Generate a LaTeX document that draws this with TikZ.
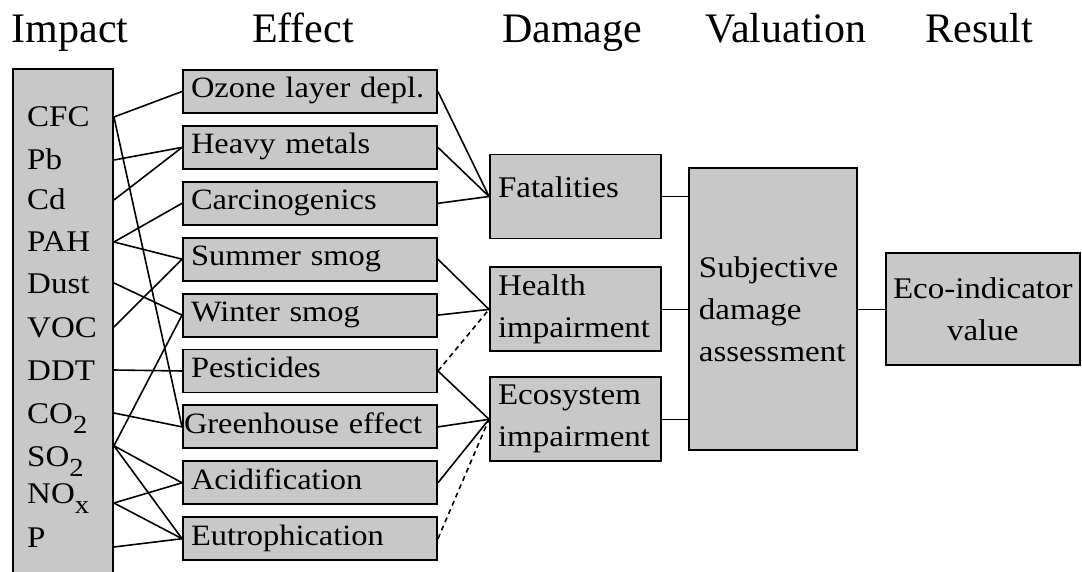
\documentclass[tikz,border=0pt]{standalone}
\usepackage{fontspec}
\setmainfont{Liberation Serif}
\newfontfamily\boxfont{Liberation Serif}[FakeStretch=1.1]
\usetikzlibrary{positioning}
\definecolor{boxgray}{RGB}{200,200,200}
\newcommand{\lowsub}[1]{\raisebox{-10pt}{\fontsize{26}{26}\selectfont #1}}

\begin{document}
\begin{tikzpicture}
    [x=1pt,y=-1pt,
    every node/.style={font=\boxfont\fontsize{30}{42}\selectfont},
    header/.style={font=\fontsize{42}{42}\selectfont,anchor=base},
    impactbox/.style={draw,fill=boxgray,line width=1.9pt,minimum width=100pt,minimum height=506pt},
    implabel/.style={anchor=base west,inner sep=0pt,text height=20pt,text depth=0pt},
    effect/.style={draw,fill=boxgray,line width=1.9pt,minimum height=43pt,text width=238pt,inner xsep=8pt,inner ysep=0pt,
        text height=20pt,text depth=7pt,align=left,font=\boxfont\fontsize{29.5}{42}\selectfont},
    damage/.style={draw,fill=boxgray,line width=1.9pt,minimum height=84pt,text width=155pt,inner xsep=8pt,inner ysep=6pt,align=left},
    valuation/.style={draw,fill=boxgray,line width=1.9pt,minimum width=168pt,minimum height=282pt,text width=148pt,inner xsep=10pt,align=left},
    result/.style={draw,fill=boxgray,line width=1.9pt,minimum width=194pt,minimum height=112pt,text width=184pt,inner xsep=5pt,align=center},
    link/.style={line width=1.6pt},
    weak/.style={link,dash pattern=on 5pt off 4pt}]

    \useasboundingbox (0,0) rectangle (1082,572);

    % column headers
    \node[header] (hImpact) at (70,43) {Impact};
    \node[header] (hEffect) at (303,43) {Effect};
    \node[header] (hDamage) at (572,43) {Damage};
    \node[header] (hValuation) at (786,43) {Valuation};
    \node[header] (hResult) at (979,43) {Result};

    % impact column
    \node[impactbox] (imp) at (63,322) {};
    \foreach \n/\t/\y in {cfc/CFC/127, pb/Pb/170, cd/Cd/210, pah/PAH/252, dust/Dust/293, voc/VOC/337,
        ddt/DDT/380, co2/CO\lowsub{2}/423, so2/SO\lowsub{2}/466, nox/NO\lowsub{x}/503, p/P/547}
        \node[implabel] (\n) at (27,\y) {\t};

    % effect column
    \node[effect] (oz) at (310,91.5) {Ozone layer depl.};
    \node[effect] (hm) [below=11pt of oz] {Heavy metals};
    \node[effect] (ca) [below=11pt of hm] {Carcinogenics};
    \node[effect] (ss) [below=11pt of ca] {Summer smog};
    \node[effect] (ws) [below=11pt of ss] {Winter smog};
    \node[effect] (pe) [below=11pt of ws] {Pesticides};
    \node[effect] (gh) [below=11pt of pe] {\mbox{\hspace*{-7pt}Greenhouse effect}};
    \node[effect] (ac) [below=11pt of gh] {Acidification};
    \node[effect] (eu) [below=11pt of ac] {Eutrophication};

    % damage, valuation, result
    \node[damage,text depth=19pt] (fat) at (575.5,196.5) {Fatalities};
    \node[damage] (hea) [below=27pt of fat] {Health\\impairment};
    \node[damage] (eco) [below=24pt of hea] {Ecosystem\\impairment};
    \node[valuation] (subj) [right=26pt of hea] {Subjective\\damage\\assessment};
    \node[result] (res) [right=27pt of subj] {Eco-indicator\\value};

    % impact -> effect
    \draw[link] (imp.east |- cfc) -- (oz.west);
    \draw[link] (imp.east |- cfc) -- (gh.west);
    \draw[link] (imp.east |- pb) -- (hm.west);
    \draw[link] (imp.east |- cd) -- (hm.west);
    \draw[link] (imp.east |- pah) -- (ca.west);
    \draw[link] (imp.east |- pah) -- (ss.west);
    \draw[link] (imp.east |- dust) -- (ws.west);
    \draw[link] (imp.east |- voc) -- (ss.west);
    \draw[link] (imp.east |- ddt) -- (pe.west);
    \draw[link] (imp.east |- co2) -- (gh.west);
    \draw[link] (imp.east |- so2.north) -- (ws.west);
    \draw[link] (imp.east |- so2.north) -- (ac.west);
    \draw[link] (imp.east |- so2.north) -- (eu.west);
    \draw[link] (imp.east |- nox.base) -- (ac.west);
    \draw[link] (imp.east |- nox.base) -- (eu.west);
    \draw[link] (imp.east |- p.base) -- (eu.west);

    % effect -> damage
    \draw[link] (oz.east) -- (fat.west);
    \draw[link] (hm.east) -- (fat.west);
    \draw[link] (ca.east) -- (fat.west);
    \draw[link] (ss.east) -- (hea.west);
    \draw[link] (ws.east) -- (hea.west);
    \draw[weak] (pe.east) -- (hea.west);
    \draw[link] (pe.east) -- (eco.west);
    \draw[link] (gh.east) -- (eco.west);
    \draw[link] (ac.east) -- (eco.west);
    \draw[weak] (eu.east) -- (eco.west);

    % damage -> valuation -> result
    \draw[link] (fat.east) -- (subj.west |- fat.east);
    \draw[link] (hea.east) -- (subj.west |- hea.east);
    \draw[link] (eco.east) -- (subj.west |- eco.east);
    \draw[link] (subj.east |- res) -- (res.west);
\end{tikzpicture}
\end{document}
